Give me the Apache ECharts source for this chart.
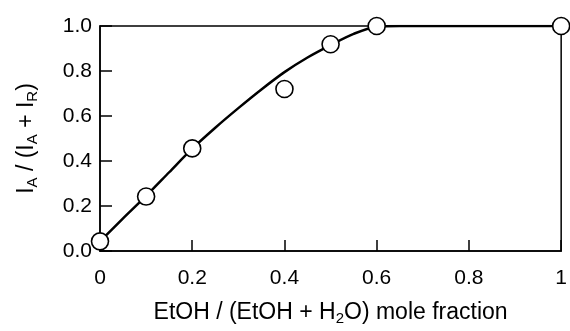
<!DOCTYPE html>
<html>
<head>
<meta charset="utf-8">
<script src="https://cdn.jsdelivr.net/npm/echarts@6/dist/echarts.min.js"></script>
<style>
  html, body { margin: 0; padding: 0; background: #fff; }
  #chart { width: 570px; height: 331px; }
</style>
</head>
<body>
<div id="chart"></div>
<script>
// measured points (circles)
var pointX = [0, 0.1, 0.2, 0.4, 0.5, 0.6, 1.0];
var pointY = [0.043, 0.242, 0.456, 0.72, 0.919, 1.0, 1.0];

// fitted curve (solid line)
var curveX = [0, 0.05, 0.1, 0.15, 0.2, 0.25, 0.3, 0.35, 0.4, 0.45, 0.5, 0.55, 0.6, 0.65, 1.0];
var curveY = [0.043, 0.145, 0.245, 0.35, 0.455, 0.548, 0.635, 0.718, 0.795, 0.86, 0.915, 0.965, 0.997, 1.0, 1.0];

var xTicks = ['0', '0.2', '0.4', '0.6', '0.8', '1'];
var yTicks = ['0.0', '0.2', '0.4', '0.6', '0.8', '1.0'];

var font = 'Liberation Sans, Arial, Helvetica, sans-serif';

function pairs(xs, ys) {
  return xs.map(function (x, i) { return [x, ys[i]]; });
}

// main text + dropped subscript
var titleRich = {
  m: { fontFamily: font, fontSize: 23, color: '#000', lineHeight: 23 },
  s: { fontFamily: font, fontSize: 15, color: '#000', lineHeight: 15, padding: [12, 0, 0, 0] }
};

var chart = echarts.init(document.getElementById('chart'), null, { renderer: 'canvas' });

var option = {
  animation: false,
  backgroundColor: '#fff',
  grid: {
    left: 100,
    right: 6,
    top: 26,
    bottom: 71,
    show: true,
    borderColor: '#000',
    borderWidth: 1.5
  },
  xAxis: {
    type: 'value',
    min: 0,
    max: 1,
    interval: 0.2,
    name: '{m|EtOH / (EtOH + H}{s|2}{m|O) mole fraction}',
    nameLocation: 'middle',
    nameGap: 50,
    nameTextStyle: { rich: titleRich },
    axisLine: { lineStyle: { color: '#000', width: 1.5 } },
    axisTick: { inside: true, length: 11, lineStyle: { color: '#000', width: 1.5 } },
    axisLabel: {
      margin: 17,
      fontFamily: font,
      fontSize: 21,
      color: '#000',
      formatter: function (v) { return xTicks[Math.round(v / 0.2)]; }
    },
    splitLine: { show: false }
  },
  yAxis: {
    type: 'value',
    min: 0,
    max: 1,
    interval: 0.2,
    name: '{m|I}{s|A}{m| / (I}{s|A}{m| + I}{s|R}{m|)}',
    nameLocation: 'middle',
    nameRotate: 90,
    nameGap: 62,
    nameTextStyle: { rich: titleRich },
    axisLine: { lineStyle: { color: '#000', width: 1.5 } },
    axisTick: { inside: true, length: 12, lineStyle: { color: '#000', width: 1.5 } },
    axisLabel: {
      margin: 8,
      fontFamily: font,
      fontSize: 21,
      color: '#000',
      formatter: function (v) { return yTicks[Math.round(v / 0.2)]; }
    },
    splitLine: { show: false }
  },
  series: [
    {
      type: 'line',
      data: pairs(curveX, curveY),
      smooth: 0.3,
      showSymbol: false,
      symbol: 'none',
      lineStyle: { color: '#000', width: 2.5 },
      z: 2
    },
    {
      type: 'scatter',
      data: pairs(pointX, pointY),
      symbol: 'circle',
      symbolSize: 17,
      itemStyle: { color: '#fff', borderColor: '#000', borderWidth: 1.6, opacity: 1 },
      z: 3
    }
  ]
};

chart.setOption(option);
</script>
</body>
</html>
